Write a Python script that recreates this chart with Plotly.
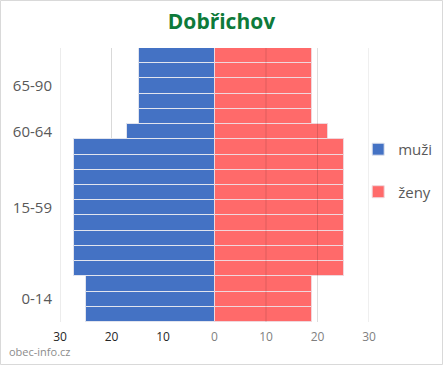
import plotly.graph_objects as go

# ---- data ----
age_groups = ["0-4", "5-9", "10-14", "15-19", "20-24", "25-29", "30-34", "35-39",
              "40-44", "45-49", "50-54", "55-59", "60-64", "65-69", "70-74",
              "75-79", "80-84", "85-90"]
muzi = [25.0, 25.0, 25.0, 27.2, 27.2, 27.2, 27.2, 27.2, 27.2, 27.2, 27.2, 27.2,
        17.0, 14.6, 14.6, 14.6, 14.6, 14.6]
zeny = [18.9, 18.9, 18.9, 25.2, 25.2, 25.2, 25.2, 25.2, 25.2, 25.2, 25.2, 25.2,
        22.0, 18.9, 18.9, 18.9, 18.9, 18.9]
y_tick_positions = ["5-9", "35-39", "60-64", "75-79"]
y_tick_labels = ["0-14", "15-59", "60-64", "65-90"]
x_ticks = [-30, -20, -10, 0, 10, 20, 30]
x_tick_labels = ["30", "20", "10", "0", "10", "20", "30"]

BLUE = "#4472C4"
RED = "#FF6A6A"

W, H = 443, 365
ML, MR, MT, MB = 60, 74, 48, 43
PW, PH = W - ML - MR, H - MT - MB

fig = go.Figure()
fig.add_trace(go.Bar(
    y=age_groups, x=[-v for v in muzi], orientation="h", name="muži",
    marker=dict(color=BLUE, line=dict(color="rgba(225,228,238,1)", width=1)),
    legendgroup="m",
))
fig.add_trace(go.Bar(
    y=age_groups, x=zeny, orientation="h", name="ženy",
    marker=dict(color=RED, line=dict(color="rgba(240,215,220,1)", width=1)),
    legendgroup="z",
))

# tick labels: left side dark, right side grey
ticktext = []
for v, t in zip(x_ticks, x_tick_labels):
    col = "#262626" if v < 0 else "#7f7f7f"
    ticktext.append(f'<span style="color:{col}">{t}</span>')

shapes = []
# gridlines: those under blue drawn below, those over red drawn above (tinted)
for v in x_ticks:
    if v == 0:
        continue
    if v > 0:
        shapes.append(dict(type="line", xref="x", yref="paper", x0=v, x1=v, y0=0, y1=1,
                           line=dict(color="rgba(0,0,0,0.13)", width=1), layer="above"))
    else:
        shapes.append(dict(type="line", xref="x", yref="paper", x0=v, x1=v, y0=0, y1=1,
                           line=dict(color="#d9d9d9", width=1), layer="below"))
# outer border of the whole chart
shapes.append(dict(type="rect", xref="paper", yref="paper",
                   x0=(-ML + 0.5) / PW, x1=(W - ML - 0.5) / PW,
                   y0=(-MB + 0.5) / PH, y1=(H - MB - 0.5) / PH,
                   line=dict(color="#d9d9d9", width=1), layer="below"))

fig.update_layout(
    width=W, height=H,
    margin=dict(l=ML, r=MR, t=MT, b=MB, autoexpand=False),
    paper_bgcolor="white", plot_bgcolor="white",
    barmode="relative", bargap=0,
    font=dict(family="Open Sans, sans-serif", color="#595959"),
    title=dict(text="<b>Dobřichov</b>", x=0.5, xanchor="center", y=0.942, yanchor="middle",
               font=dict(size=21, color="#0E7A3A", family="Open Sans, sans-serif")),
    xaxis=dict(range=[-30, 30], tickvals=x_ticks, ticktext=ticktext,
               showgrid=False, zeroline=False, showline=False, automargin=False,
               tickfont=dict(size=12), ticks="", ticklen=0, ticklabelstandoff=6),
    yaxis=dict(categoryorder="array", categoryarray=age_groups,
               tickvals=y_tick_positions, ticktext=y_tick_labels,
               range=[-0.5, len(age_groups) - 0.5], automargin=False,
               showgrid=False, zeroline=False, showline=False,
               tickfont=dict(size=15, color="#595959"), ticks="", ticklen=0,
               ticklabelstandoff=7),
    legend=dict(x=0.965, y=0.69, xanchor="left", yanchor="top",
                font=dict(size=15, color="#595959"), tracegroupgap=20,
                itemwidth=30, bgcolor="rgba(0,0,0,0)", traceorder="grouped"),
    shapes=shapes,
    annotations=[dict(text="obec-info.cz", xref="paper", yref="paper",
                      x=(-ML + 7) / PW, y=(-MB + 4) / PH, xanchor="left", yanchor="bottom",
                      showarrow=False, font=dict(size=11, color="#8c8c8c"))],
)

fig.write_html("out.html", post_script="document.body.style.margin='0px';",
               config={"displayModeBar": False})
